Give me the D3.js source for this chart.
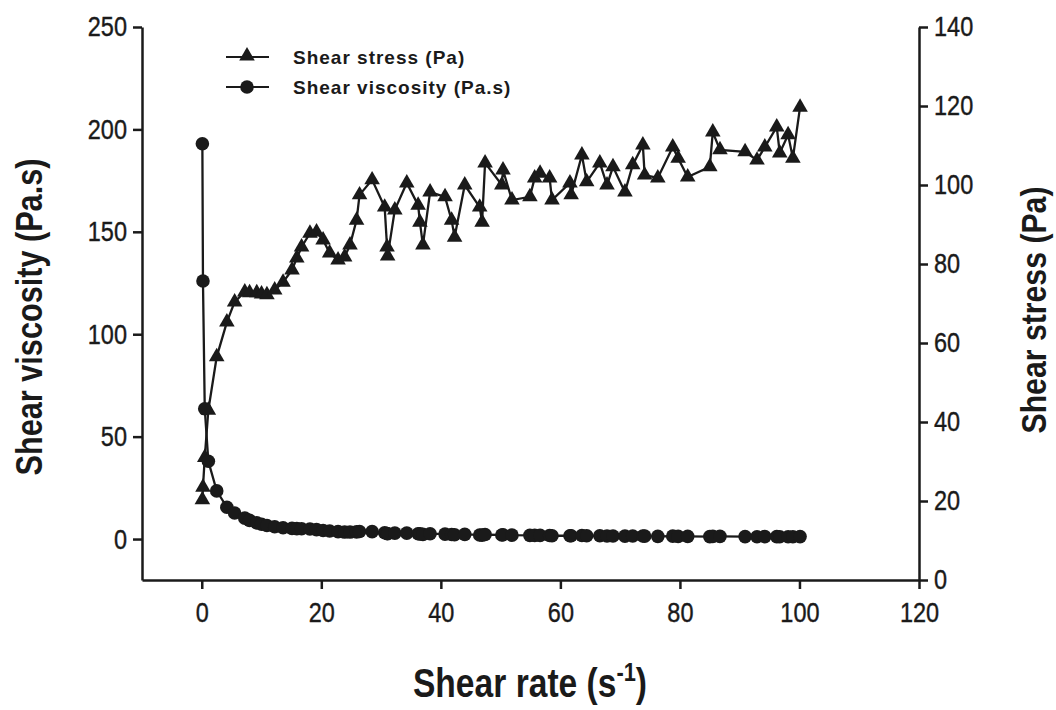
<!DOCTYPE html>
<meta charset="utf-8">
<style>
body { margin: 0; background: #fff; }
svg { display: block; }
.tick text { font-family: "Liberation Sans", Arial, sans-serif; font-size: 28px; fill: #1a1a1a; stroke: #1a1a1a; stroke-width: 0.4px; }
.axis path, .axis line { stroke: #1a1a1a; stroke-width: 2.5px; }
.title { font-family: "Liberation Sans", Arial, sans-serif; font-weight: bold; fill: #1a1a1a; }
.legend text { font-family: "Liberation Sans", Arial, sans-serif; font-weight: bold; font-size: 19px; letter-spacing: 1px; fill: #1a1a1a; }
</style>
<body>
<svg width="1056" height="710"></svg>
<script src="https://d3js.org/d3.v7.min.js"></script>
<script>
// shear rate (s-1), shared by both series
var rate = [0.1, 0.2, 0.5, 1.1, 2.5, 4.2, 5.5, 7.2, 8.0, 9.2, 10.0, 10.9, 12.2, 13.6, 15.1, 15.9, 16.7, 18.1, 19.2, 20.3,
  21.4, 22.8, 23.9, 24.8, 25.9, 26.4, 28.5, 30.6, 31.0, 31.1, 32.3, 34.3, 36.2, 36.5, 37.0, 38.2, 40.7, 41.8, 42.3, 44.0,
  46.5, 46.9, 47.4, 50.2, 50.4, 51.9, 54.9, 55.7, 56.6, 58.2, 58.6, 61.6, 61.8, 63.6, 64.4, 66.6, 67.8, 68.8, 70.8, 72.1,
  73.8, 74.1, 76.3, 78.8, 79.7, 81.3, 85.0, 85.5, 86.7, 90.9, 92.9, 94.2, 96.2, 96.7, 98.1, 98.9, 100.1];

// shear stress (Pa), right axis
var stress = [20.3, 23.5, 31.0, 43.0, 56.5, 65.3, 70.4, 72.9, 72.7, 72.7, 72.4, 72.2, 73.4, 75.4, 78.5, 81.5, 84.3, 87.8, 88.1, 86.1,
  82.8, 81.0, 81.8, 84.8, 91.1, 97.5, 101.3, 94.4, 84.3, 82.0, 93.7, 100.5, 94.9, 90.6, 84.8, 98.2, 97.0, 91.1, 86.8, 100.0,
  94.4, 90.6, 105.6, 100.0, 103.8, 96.2, 97.0, 101.8, 103.0, 101.8, 96.2, 100.5, 97.5, 107.6, 100.8, 105.6, 100.0, 104.6, 98.2, 105.1,
  110.1, 102.5, 101.8, 109.6, 106.8, 102.0, 104.6, 113.4, 108.9, 108.4, 106.3, 109.6, 114.7, 108.1, 112.7, 106.8, 119.7];

// shear viscosity (Pa.s), left axis
var viscosity = [193, 126, 63.6, 38, 23.5, 15.5, 12.7, 10.2, 9.1, 7.9, 7.2, 6.6, 6.0, 5.5, 5.2, 5.1, 5.0, 4.9, 4.6, 4.2,
  3.9, 3.6, 3.4, 3.4, 3.5, 3.7, 3.6, 3.1, 2.7, 2.6, 2.9, 2.9, 2.6, 2.5, 2.3, 2.6, 2.4, 2.2, 2.1, 2.3,
  2.0, 1.9, 2.2, 2.0, 2.1, 1.9, 1.8, 1.8, 1.8, 1.7, 1.6, 1.6, 1.6, 1.7, 1.6, 1.6, 1.5, 1.5, 1.4, 1.5,
  1.5, 1.4, 1.3, 1.4, 1.3, 1.3, 1.2, 1.3, 1.3, 1.2, 1.1, 1.2, 1.2, 1.1, 1.1, 1.1, 1.2];

var xTicks = [0, 20, 40, 60, 80, 100, 120];
var leftTicks = [0, 50, 100, 150, 200, 250];
var rightTicks = [0, 20, 40, 60, 80, 100, 120, 140];

var svg = d3.select("svg");
var ink = "#1a1a1a";
var narrow = 0.84; // squeeze labels to look like a narrow face

var x = d3.scaleLinear().domain([-10, 120]).range([142, 919]);
var yL = d3.scaleLinear().domain([-20, 250]).range([580, 27]);
var yR = d3.scaleLinear().domain([0, 140]).range([580, 27]);

// axes
var gx = svg.append("g").attr("class", "axis")
  .attr("transform", "translate(0,580)")
  .call(d3.axisBottom(x).tickValues(xTicks).tickSize(9).tickPadding(13).tickSizeOuter(0));
gx.selectAll(".tick text").attr("transform", "scale(" + narrow + ",1)");

var gl = svg.append("g").attr("class", "axis")
  .attr("transform", "translate(142,0)")
  .call(d3.axisLeft(yL).tickValues(leftTicks).tickSize(9).tickPadding(5).tickSizeOuter(0));
gl.selectAll(".tick text").attr("x", -15 / narrow).attr("transform", "scale(" + narrow + ",1)");

var gr = svg.append("g").attr("class", "axis")
  .attr("transform", "translate(919,0)")
  .call(d3.axisRight(yR).tickValues(rightTicks).tickSize(9).tickPadding(6).tickSizeOuter(0));
gr.selectAll(".tick text").attr("x", 15 / narrow).attr("transform", "scale(" + narrow + ",1)");

var idx = d3.range(rate.length);

// shear stress line + triangles
svg.append("path")
  .datum(idx)
  .attr("fill", "none")
  .attr("stroke", ink)
  .attr("stroke-width", 2.3)
  .attr("d", d3.line().x(function(i) { return x(rate[i]); }).y(function(i) { return yR(stress[i]); }));

var tri = d3.symbol().type(d3.symbolTriangle).size(105);
svg.append("g").selectAll("path")
  .data(idx)
  .enter().append("path")
  .attr("d", tri)
  .attr("fill", ink)
  .attr("transform", function(i) { return "translate(" + x(rate[i]) + "," + yR(stress[i]) + ")"; });

// shear viscosity line + circles
svg.append("path")
  .datum(idx)
  .attr("fill", "none")
  .attr("stroke", ink)
  .attr("stroke-width", 2.3)
  .attr("d", d3.line().x(function(i) { return x(rate[i]); }).y(function(i) { return yL(viscosity[i]); }));

svg.append("g").selectAll("circle")
  .data(idx)
  .enter().append("circle")
  .attr("cx", function(i) { return x(rate[i]); })
  .attr("cy", function(i) { return yL(viscosity[i]); })
  .attr("r", 6.8)
  .attr("fill", ink);

// axis titles
svg.append("text").attr("class", "title")
  .attr("text-anchor", "middle")
  .attr("font-size", "36.5px")
  .attr("transform", "translate(42,317) rotate(-90) scale(" + narrow + ",1)")
  .text("Shear viscosity (Pa.s)");

svg.append("text").attr("class", "title")
  .attr("text-anchor", "middle")
  .attr("font-size", "36px")
  .attr("transform", "translate(1046,310) rotate(-90) scale(" + narrow + ",1)")
  .text("Shear stress (Pa)");

var xt = svg.append("text").attr("class", "title")
  .attr("text-anchor", "middle")
  .attr("font-size", "40px")
  .attr("transform", "translate(530,697) scale(" + narrow + ",1)");
xt.append("tspan").text("Shear rate (s");
xt.append("tspan").attr("font-size", "26px").attr("dy", -16).text("-1");
xt.append("tspan").attr("dy", 16).text(")");

// legend
var legend = svg.append("g").attr("class", "legend");
var legendItems = ["Shear stress (Pa)", "Shear viscosity (Pa.s)"];
legendItems.forEach(function(name, k) {
  var ly = 57 + k * 30;
  legend.append("line").attr("x1", 226).attr("x2", 269).attr("y1", ly).attr("y2", ly)
    .attr("stroke", ink).attr("stroke-width", 2);
  if (k === 0) {
    legend.append("path").attr("d", tri).attr("fill", ink)
      .attr("transform", "translate(247," + (ly - 1) + ")");
  } else {
    legend.append("circle").attr("cx", 247).attr("cy", ly).attr("r", 6.8).attr("fill", ink);
  }
  legend.append("text").attr("x", 293).attr("y", ly + 7).text(name);
});
</script>
</body>
